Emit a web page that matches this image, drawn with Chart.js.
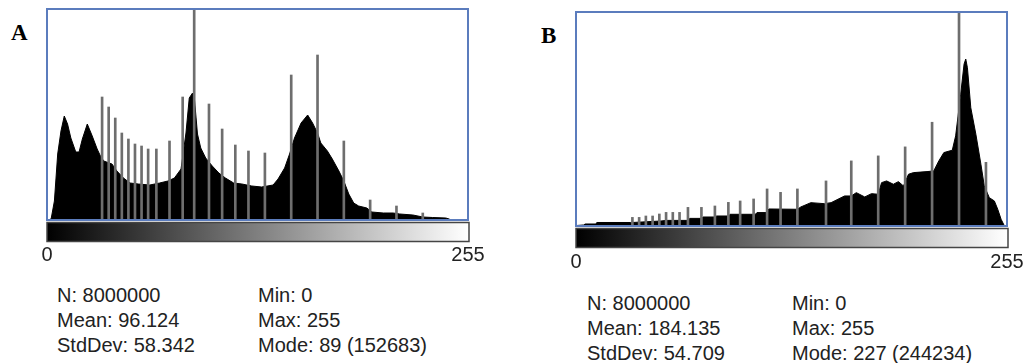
<!DOCTYPE html>
<html>
<head>
<meta charset="utf-8">
<script src="https://cdn.jsdelivr.net/npm/chart.js@4.4.1/dist/chart.umd.min.js"></script>
<style>
  html, body { margin: 0; padding: 0; background: #fff; width: 1027px; height: 363px; overflow: hidden; }
  .box { position: absolute; }
  canvas { display: block; }
  .letter { position: absolute; font: bold 23px "Liberation Serif", "Times New Roman", serif; line-height: 23px; color: #000; }
  .stats { position: absolute; font: 20px "Liberation Sans", Arial, sans-serif; line-height: 25px; color: #222; white-space: pre; }
</style>
</head>
<body>
<div class="letter" style="left:11px; top:21px;">A</div>
<div class="letter" style="left:541px; top:24px;">B</div>

<div class="box" style="left:23px; top:5px;"><canvas id="histA" width="469" height="262"></canvas></div>
<div class="box" style="left:552px; top:8px;"><canvas id="histB" width="475" height="266"></canvas></div>

<div class="stats" id="statsA1" style="left:57px; top:283px;"></div>
<div class="stats" id="statsA2" style="left:258px; top:283px;"></div>
<div class="stats" id="statsB1" style="left:587px; top:291px;"></div>
<div class="stats" id="statsB2" style="left:792px; top:291px;"></div>

<script>
// ---- Histogram A: outline of the 256-bin count distribution ----
const levelsA = [0, 2, 4, 6, 8, 10, 12, 14, 17, 19, 21, 24, 27, 30, 32, 34, 39, 42, 46, 50,
  55, 62, 68, 73, 77, 81, 84, 86, 88, 89, 91, 93, 96, 100, 104, 108, 113, 118, 124, 130,
  137, 140, 144, 147, 150, 154, 158, 161, 164, 166, 170, 173, 177, 180, 183, 186, 189, 194, 197, 204,
  210, 214, 222, 228, 234, 242, 244, 245, 255];
const countsA = [0, 700, 13300, 46200, 62300, 72800, 67200, 57400, 47600, 47600, 56700, 67200, 58800, 49700, 44800, 41300, 39200, 34300, 29400, 25900,
  25200, 24500, 25900, 27300, 29400, 35700, 60900, 85400, 88900, 86800, 60200, 50400, 43400, 37800, 32900, 29400, 25900, 25200, 23800, 23100,
  24500, 28700, 36400, 46200, 57400, 67900, 73500, 67900, 60900, 53900, 48300, 42700, 34300, 27300, 18200, 11900, 9800, 8400, 5600, 4900,
  4900, 4200, 3500, 2100, 1750, 1400, 700, 0, 0];
// Isolated tall bins
const spikeLevelsA = [33, 37, 41, 45, 49, 53, 57, 61, 66, 74, 82, 98, 106, 114, 122, 132, 148, 164, 180, 196, 212, 228];
const spikeCountsA = [86100, 79100, 71400, 60900, 56700, 53200, 51800, 49700, 49700, 55300, 86100, 81200, 63700, 52500, 48300, 46900, 101500, 115500, 55300, 14000, 9800, 4900];
const modeLevelA = 89;
const modeCountA = 152683;
const yMaxA = 147700;

// ---- Histogram B ----
const levelsB = [0, 4, 5, 11, 12, 32, 33, 50, 53, 66, 67, 74, 75, 82, 83, 90, 91, 106, 107, 113,
  114, 131, 133, 139, 147, 151, 159, 163, 166, 171, 175, 179, 181, 184, 188, 191, 194, 197, 200, 208,
  212, 215, 218, 223, 225, 228, 230, 231, 232, 234, 237, 240, 242, 245, 248, 250, 252, 254, 255];
const countsB = [475, 950, 1900, 1900, 3325, 3325, 3325, 4750, 5320, 5320, 7220, 7220, 8550, 8550, 9500, 9500, 11115, 11115, 12730, 12730,
  16150, 15865, 18050, 22135, 21185, 22135, 28500, 28500, 31635, 27550, 30685, 30115, 41135, 42750, 39615, 42085, 38000, 49115, 50635, 51585,
  52250, 61750, 69635, 71915, 85500, 125115, 153615, 158365, 150100, 112100, 87115, 58615, 38000, 26885, 23750, 15865, 6365, 0, 0];
const spikeLevelsB = [33, 37, 41, 45, 49, 53, 57, 61, 66, 74, 82, 90, 97, 105, 113, 121, 131, 148, 163, 179, 195, 211, 243];
const spikeCountsB = [8170, 8170, 9500, 9500, 11400, 12920, 12920, 12920, 17670, 17670, 19000, 22420, 23750, 25650, 35150, 31920, 35150, 42750, 61750, 66500, 75050, 98420, 60420];
const modeLevelB = 227;
const modeCountB = 244234;
const yMaxB = 203000;

// Axis ends of the gray-level bar
const tickValues = [0, 256];
const tickLabels = ['0', '255'];

// Summary statistics printed under each histogram
const statsA = { n: 8000000, mean: '96.124', stdDev: '58.342', min: 0, max: 255 };
const statsB = { n: 8000000, mean: '184.135', stdDev: '54.709', min: 0, max: 255 };

// Frame around the plot and the black-to-white gray-level bar under it
const histFrame = {
  id: 'histFrame',
  afterDraw(chart, args, opts) {
    const { ctx, chartArea: a } = chart;
    ctx.save();
    const gy = a.bottom + opts.barGap;
    const gh = opts.barHeight;
    const g = ctx.createLinearGradient(a.left, 0, a.right, 0);
    g.addColorStop(0, '#000');
    g.addColorStop(1, '#fff');
    ctx.fillStyle = g;
    ctx.fillRect(a.left, gy, a.right - a.left + 1, gh);
    ctx.strokeStyle = '#454545';
    ctx.lineWidth = 1.5;
    ctx.strokeRect(a.left, gy, a.right - a.left + 1, gh);
    ctx.strokeStyle = '#5b7cbd';
    ctx.lineWidth = 2;
    ctx.strokeRect(a.left, a.top, a.right - a.left, a.bottom - a.top);
    ctx.restore();
  }
};

function makeHistogram(id, levels, counts, spikeLevels, spikeCounts, modeLevel, modeCount, yMax, layout) {
  const outline = levels.map((l, i) => ({ x: l + 0.5, y: counts[i] }));
  const spikes = spikeLevels.map((l, i) => ({ x: l + 0.5, y: spikeCounts[i] }));
  spikes.push({ x: modeLevel + 0.5, y: modeCount });
  spikes.sort((p, q) => p.x - q.x);

  return new Chart(document.getElementById(id), {
    data: {
      datasets: [
        {
          type: 'bar',
          data: spikes,
          backgroundColor: '#6e6e6e',
          borderWidth: 0,
          barThickness: 2,
          order: 0
        },
        {
          type: 'line',
          data: outline,
          borderColor: '#000',
          backgroundColor: '#000',
          borderWidth: 1,
          pointRadius: 0,
          tension: 0,
          fill: 'origin',
          order: 1
        }
      ]
    },
    options: {
      responsive: false,
      animation: false,
      devicePixelRatio: 1,
      layout: { padding: { left: layout.padLeft, right: layout.padRight, top: 4, bottom: 0 } },
      plugins: {
        legend: { display: false },
        tooltip: { enabled: false },
        histFrame: { barGap: layout.barGap, barHeight: 19 }
      },
      scales: {
        x: {
          type: 'linear',
          min: 0,
          max: 256,
          offset: false,
          grid: { display: false, drawTicks: false },
          border: { display: false },
          afterBuildTicks(scale) { scale.ticks = tickValues.map(v => ({ value: v })); },
          afterFit(scale) {
            // end labels may hang past the plot edges; keep the plot width fixed
            scale.height = layout.axisHeight;
            scale.paddingLeft = 0;
            scale.paddingRight = 0;
          },
          ticks: {
            autoSkip: false,
            maxRotation: 0,
            padding: layout.tickPad,
            color: '#222',
            font: { family: '"Liberation Sans", Arial, sans-serif', size: 20 },
            callback: (v, i) => tickLabels[i]
          }
        },
        y: {
          display: false,
          min: 0,
          max: yMax
        }
      }
    },
    plugins: [histFrame]
  });
}

makeHistogram('histA', levelsA, countsA, spikeLevelsA, spikeCountsA, modeLevelA, modeCountA, yMaxA,
  { padLeft: 24, padRight: 24, axisHeight: 47, tickPad: 23, barGap: 2.5 });
makeHistogram('histB', levelsB, countsB, spikeLevelsB, spikeCountsB, modeLevelB, modeCountB, yMaxB,
  { padLeft: 24, padRight: 20, axisHeight: 48, tickPad: 24, barGap: 2.5 });

function fillStats(s, modeLevel, modeCount, id1, id2) {
  document.getElementById(id1).textContent =
    'N: ' + s.n + '\nMean: ' + s.mean + '\nStdDev: ' + s.stdDev;
  document.getElementById(id2).textContent =
    'Min: ' + s.min + '\nMax: ' + s.max + '\nMode: ' + modeLevel + ' (' + modeCount + ')';
}
fillStats(statsA, modeLevelA, modeCountA, 'statsA1', 'statsA2');
fillStats(statsB, modeLevelB, modeCountB, 'statsB1', 'statsB2');
</script>
</body>
</html>
